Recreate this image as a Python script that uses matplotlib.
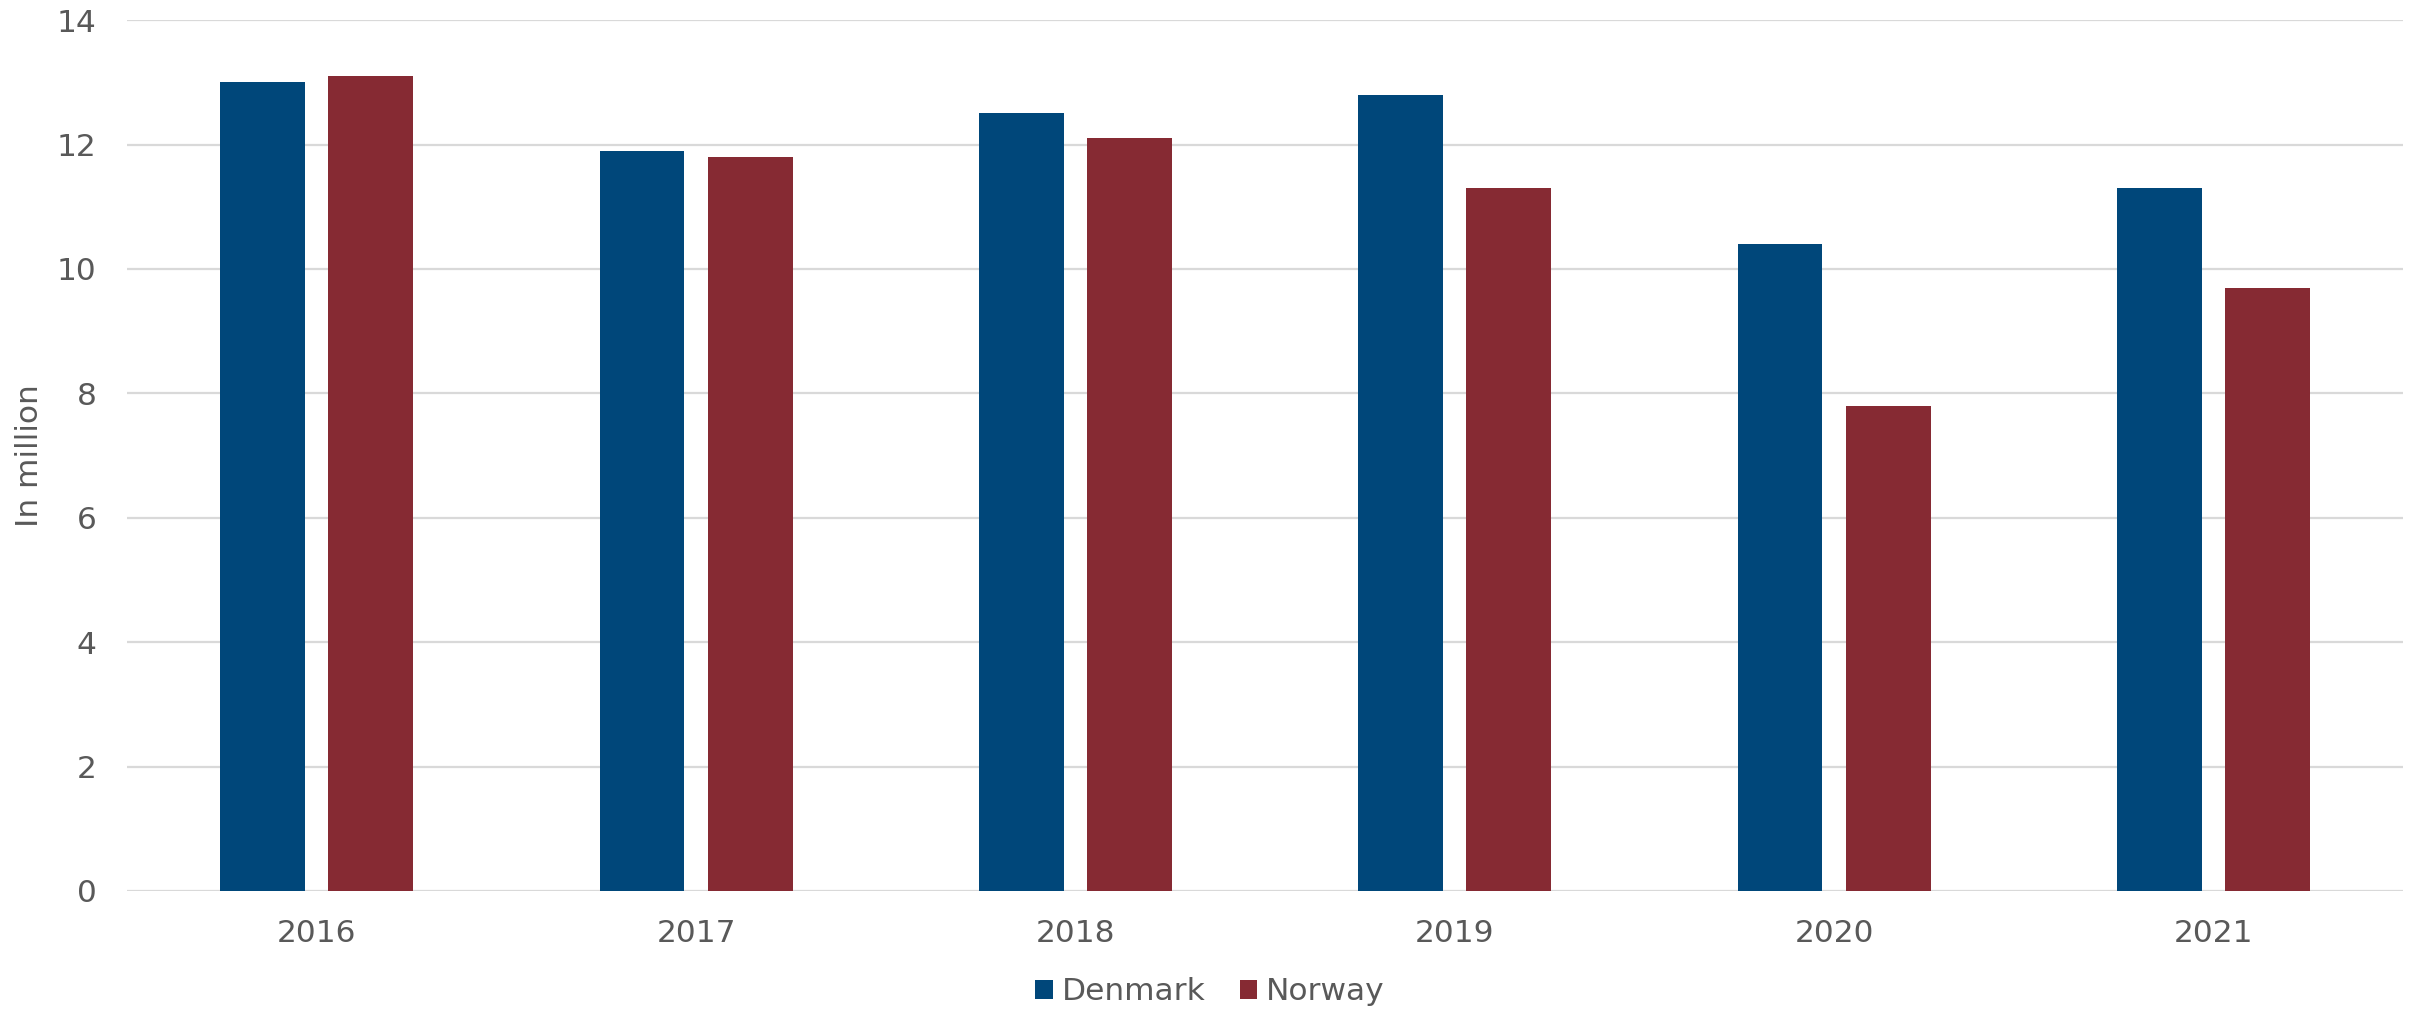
import matplotlib
matplotlib.use("Agg")
import matplotlib.pyplot as plt
from matplotlib.patches import Patch
import numpy as np

years = ["2016", "2017", "2018", "2019", "2020", "2021"]
denmark = [13.0, 11.9, 12.5, 12.8, 10.4, 11.3]
norway = [13.1, 11.8, 12.1, 11.3, 7.8, 9.7]
series_names = ["Denmark", "Norway"]
colors = ["#00477A", "#862A33"]
yticks = [0, 2, 4, 6, 8, 10, 12, 14]

fig = plt.figure(figsize=(24.2, 10.09), dpi=100)
ax = fig.add_axes([0.0525, 0.117, 0.9405, 0.863])

x = np.arange(len(years))
w = 0.224
off = 0.1425
ax.bar(x - off, denmark, width=w, color=colors[0], zorder=3)
ax.bar(x + off, norway, width=w, color=colors[1], zorder=3)

ax.set_xlim(-0.5, len(years) - 0.5)
ax.set_ylim(0, 14)
ax.set_yticks(yticks)
ax.set_xticks(x)
ax.set_xticklabels(years)
ax.grid(axis="y", color="#d9d9d9", linewidth=1.6, zorder=0)
for s in ax.spines.values():
    s.set_visible(False)
ax.tick_params(axis="both", length=0, labelsize=22.5, labelcolor="#595959")
ax.tick_params(axis="y", pad=22)
ax.tick_params(axis="x", pad=20)

fig.text(0.012, 0.548, "In million", rotation=90, ha="center", va="center",
         fontsize=22.5, color="#595959")

handles = [Patch(facecolor=c) for c in colors]
fig.legend(handles, series_names, loc="center", bbox_to_anchor=(0.5, 0.017),
           ncol=2, frameon=False, fontsize=22.5, labelcolor="#595959",
           handlelength=0.56, handleheight=0.56, handletextpad=0.28,
           columnspacing=1.1, borderpad=0, borderaxespad=0)

fig.savefig("out.png", dpi=100)
